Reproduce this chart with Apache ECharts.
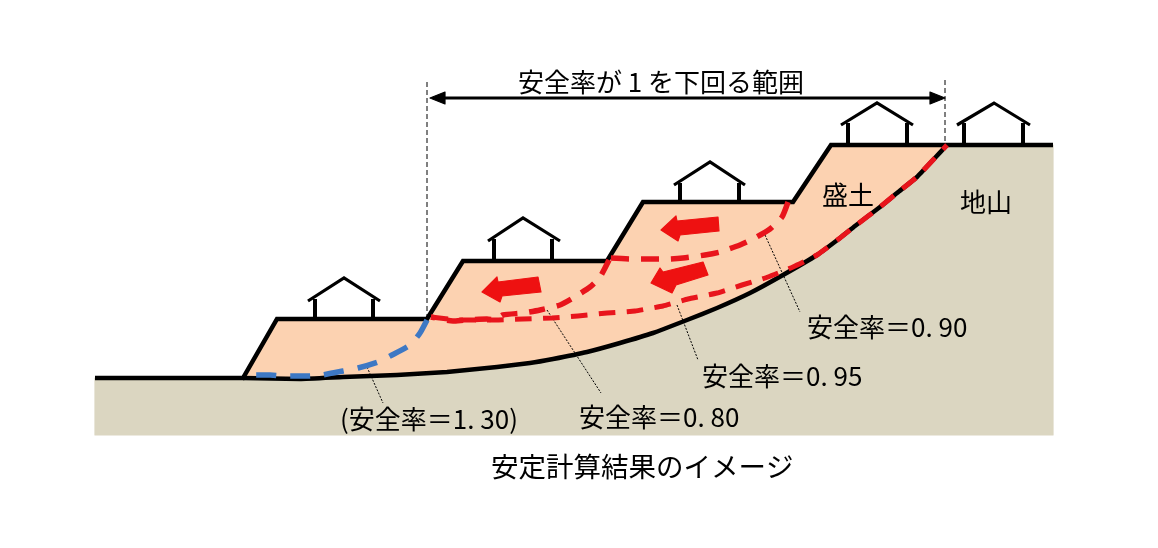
<!DOCTYPE html>
<html>
<head>
<meta charset="utf-8">
<title>安定計算結果のイメージ</title>
<style>
  html, body { margin: 0; padding: 0; background: #fff; }
  #chart { width: 1158px; height: 548px; }
</style>
<script src="https://cdn.jsdelivr.net/npm/echarts@6/dist/echarts.min.js"></script>
</head>
<body>
<div id="chart"></div>
<script>
// 断面の形状 [x, y]
const slipSurface = [[243,378],[300,379],[343,377],[397,375],[447,372],[497,367],[530,363],[553,359],[587,352],[620,343],[653,333],[687,320],[717,308],[750,293],[783,275],[817,255],[840,238],[855,226],[880,207],[897,193],[917,177],[933,160],[947,145]];
const groundLine = [[95,378],[243,378],[277,319],[427,319],[463,261],[607,261],[643,202],[793,202],[831,145],[1053,145]];
const embankmentTop = [[277,319],[427,319],[463,261],[607,261],[643,202],[793,202],[831,145]];
const groundCorners = [[1053,145],[1053,435],[95,435],[95,378]];

// すべり面
const curve130 = [[427,320],[420,333],[410,345],[392,355],[378,362],[358,368],[343,371],[322,375],[308,376],[285,376],[270,375],[248,375]];
const curve090 = [[788,202],[782,217],[770,229],[753,239],[740,245],[720,252],[705,255],[683,258],[668,259],[647,259],[632,259],[609,258]];
const curve080 = [[609,260],[600,277],[590,287],[573,298],[560,305],[540,310],[523,313],[503,315],[495,320],[487,319],[465,320],[453,321],[431,317]];
const curve095 = [[431,317],[460,320],[490,320],[523,319],[552,318],[578,316],[607,313],[635,311],[663,306],[688,299],[717,293],[742,285],[768,277],[793,267],[817,255],[840,238],[855,226],[880,207],[897,193],[917,177],[933,160],[947,145]];

// 引出線
const leaders = [
  [[367,367],[383,403]],
  [[547,310],[601,393]],
  [[677,305],[698,360]],
  [[765,235],[800,312]]
];

// 矢印
const slideArrows = [
  [[482,292],[497,277],[498,282],[538,277],[541,292],[502,296],[500,302]],
  [[661,230],[676,216],[677,221],[718,217],[719,231],[680,235],[678,241]],
  [[651,283],[660,268],[663,272],[703,262],[708,275],[676,285],[672,293]]
];
const rangeHeads = [
  [[430,98],[445,92],[445,104]],
  [[945,98],[930,92],[930,104]]
];
const rangeLine = [[440,98],[935,98]];
const rangeEdges = [
  [[427,82],[427,319]],
  [[945,80],[945,145]]
];

// 家
const housePeak = [[344,278],[523,218],[710,162],[877,103],[994,103]];
const houseEaveLeft = [[308,301],[488,241],[674,185],[841,125],[957,125]];
const houseEaveRight = [[380,301],[560,241],[745,185],[913,125],[1030,125]];
const houseWallLeft = [[315,319],[494,261],[680,202],[848,145],[964,145]];
const houseWallRight = [[373,319],[552,261],[739,202],[907,145],[1023,145]];

// 文字
const labelTexts = ['安全率が 1 を下回る範囲','盛土','地山','安全率＝0. 90','安全率＝0. 95','安全率＝0. 80','(安全率＝1. 30)','安定計算結果のイメージ'];
const labelPos = [[518,82],[822,195],[960,202],[807,327],[702,376],[579,417],[340,419],[491,467]];
const labelSizes = [26,26,26,26,26,26,26,27.5];

const TEXT_FONT = '"Liberation Sans Narrow","Noto Sans CJK JP"';
let z = 1;

function polygonSeries(polys, color) {
  return {
    type: 'custom',
    coordinateSystem: 'cartesian2d',
    silent: true,
    z: z++,
    clip: false,
    data: polys.map((p, i) => [i]),
    renderItem(params, api) {
      const pts = polys[api.value(0)].map(p => api.coord(p));
      return {
        type: 'polygon',
        shape: { points: pts },
        style: { fill: color, stroke: color, lineWidth: 1.2, lineJoin: 'round' }
      };
    }
  };
}

function lineSeries(points, color, width, opts) {
  return Object.assign({
    type: 'line',
    data: points,
    showSymbol: false,
    symbol: 'none',
    silent: true,
    z: z++,
    lineStyle: { color: color, width: width, cap: 'butt', join: 'miter' }
  }, opts || {});
}

function dashed(points, color, width, dash, smooth) {
  const s = lineSeries(points, color, width, { smooth: smooth });
  s.lineStyle.type = dash;
  return s;
}

const series = [];
// 地山と盛土
series.push(polygonSeries([slipSurface.concat(groundCorners)], '#dbd6c1'));
series.push(polygonSeries([embankmentTop.concat(slipSurface.slice().reverse())], '#fcd2b1'));
// 引出線・すべり面の実線
leaders.forEach(l => series.push(lineSeries(l, '#000', 1, { lineStyle: { color: '#000', width: 1, type: [2, 1.5] } })));
rangeEdges.forEach(l => series.push(lineSeries(l, '#000', 1, { lineStyle: { color: '#000', width: 1, type: [5, 3] } })));
series.push(lineSeries(slipSurface, '#000', 4.5, { smooth: 0.12, lineStyle: { color: '#000', width: 4.5, join: 'round' } }));
series.push(lineSeries(groundLine, '#000', 4.5));
// 家
housePeak.forEach((peak, i) => {
  series.push(lineSeries([houseEaveLeft[i], peak, houseEaveRight[i]], '#000', 3.2));
  const wl = houseWallLeft[i], wr = houseWallRight[i];
  series.push(lineSeries([[wl[0], houseEaveLeft[i][1] - 2], wl], '#000', 4));
  series.push(lineSeries([[wr[0], houseEaveRight[i][1] - 2], wr], '#000', 4));
});
// すべり面の破線
series.push(dashed(curve130, '#3d78c4', 5.5, [20, 14], 0.2));
series.push(dashed(curve095, '#e8141c', 5, [17, 11], 0.12));
series.push(dashed(curve080, '#e8141c', 5.5, [16, 12], 0.2));
series.push(dashed(curve090, '#e8141c', 5.5, [18, 12], 0.2));
// 矢印
series.push(polygonSeries(slideArrows, '#ee1111'));
series.push(lineSeries(rangeLine, '#000', 3));
series.push(polygonSeries(rangeHeads, '#000'));
// 文字
series.push({
  type: 'custom',
  coordinateSystem: 'cartesian2d',
  silent: true,
  z: z++,
  data: labelTexts.map((t, i) => [i]),
  renderItem(params, api) {
    const i = api.value(0);
    const c = api.coord(labelPos[i]);
    return {
      type: 'text',
      x: c[0],
      y: c[1],
      style: {
        text: labelTexts[i],
        fill: '#000',
        font: labelSizes[i] + 'px ' + TEXT_FONT,
        textAlign: 'left',
        textVerticalAlign: 'middle'
      }
    };
  }
});

const chart = echarts.init(document.getElementById('chart'), null, { renderer: 'canvas' });
chart.setOption({
  animation: false,
  backgroundColor: '#fff',
  grid: { left: 0, right: 0, top: 0, bottom: 0 },
  xAxis: { type: 'value', min: 0, max: 1158, show: false },
  yAxis: { type: 'value', min: 0, max: 548, inverse: true, show: false },
  series: series
});
</script>
</body>
</html>
